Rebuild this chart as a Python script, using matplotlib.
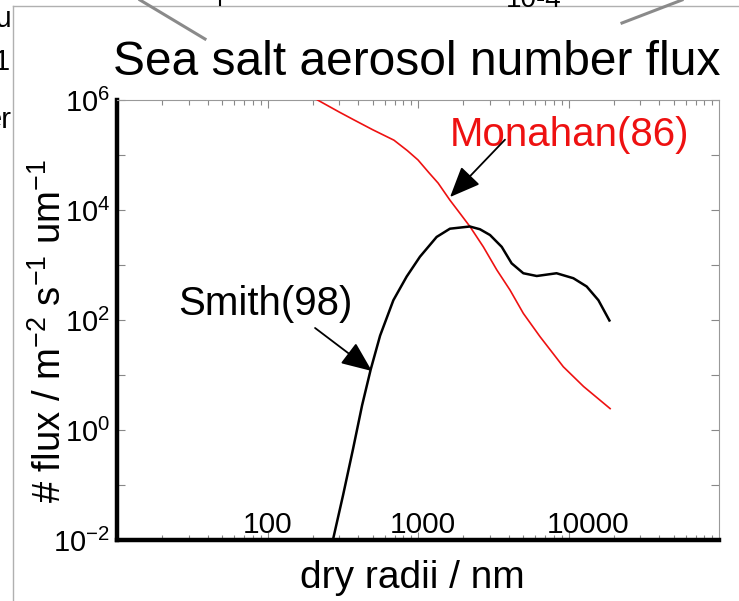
import numpy as np
import matplotlib.pyplot as plt
from matplotlib.lines import Line2D
from matplotlib.transforms import ScaledTranslation
from matplotlib.ticker import FixedLocator, FixedFormatter, NullFormatter, LogLocator

plt.rcParams['font.family'] = ['Liberation Sans', 'DejaVu Sans']
plt.rcParams['mathtext.fontset'] = 'custom'
plt.rcParams['mathtext.rm'] = 'Liberation Sans'
plt.rcParams['mathtext.it'] = 'Liberation Sans:italic'

# Smith(98) curve (dry radius in nm, flux)
smith_r = [272, 318, 370, 425, 485, 560, 686, 841, 1030, 1330, 1630, 2210,
           2580, 3010, 3600, 4190, 5010, 6150, 8330, 10770, 13200, 15800, 18700]
smith_flux = [0.01, 0.066, 0.45, 2.8, 12.6, 52, 229, 617, 1413, 3236, 4571, 5012,
              4467, 3508, 2138, 1072, 708, 631, 708, 575, 407, 229, 98]

# Monahan(86) curve
monahan_r = [215, 300, 374, 500, 692, 850, 1000, 1180, 1360, 1630, 1900, 2214,
             2717, 3340, 4085, 5010, 6460, 9240, 12600, 18900]
monahan_flux = [1.0e6, 6.03e5, 4.37e5, 2.88e5, 1.86e5, 1.2e5, 8.13e4, 4.79e4,
                3.09e4, 1.51e4, 8.7e3, 5.0e3, 2.14e3, 813, 351, 132, 50, 14.1, 6.17, 2.45]

x_ticks = [100, 1000, 10000]
x_labels = ['100', '1000', '10000']
y_ticks = [1e-2, 1e0, 1e2, 1e4, 1e6]
y_labels = [r'$\mathdefault{10^{-2}}$', r'$\mathdefault{10^{0}}$', r'$\mathdefault{10^{2}}$',
            r'$\mathdefault{10^{4}}$', r'$\mathdefault{10^{6}}$']
y_minor = [1e-1, 1e1, 1e3, 1e5]

W, H = 739, 601
fig = plt.figure(figsize=(W / 100, H / 100), dpi=100)

# bits of the surrounding slide
def px_line(x0, y0, x1, y1, **kw):
    fig.add_artist(Line2D([x0 / W, x1 / W], [1 - y0 / H, 1 - y1 / H],
                          transform=fig.transFigure, **kw))

px_line(13, 6, 13, 601, color='#b0b0b0', lw=1.0)
px_line(13, 6, 739, 6, color='#b0b0b0', lw=1.0)
px_line(140, 0, 205, 39, color='#8a8a8a', lw=2.2)
px_line(622, 23, 682, 0, color='#8a8a8a', lw=2.2)
px_line(220, 0, 220, 5, color='black', lw=1.5)
fig.text(12 / W, 1 - 27 / H, 'Eu', ha='right', va='baseline', fontsize=21)
fig.text(10 / W, 1 - 70 / H, '1', ha='right', va='baseline', fontsize=21)
fig.text(12 / W, 1 - 128 / H, 'er', ha='right', va='baseline', fontsize=21)
fig.text(506 / W, 1 - 7 / H, '10-4', ha='left', va='baseline', fontsize=20)

ax = fig.add_axes([117 / W, 61 / H, 602 / W, 440 / H])
ax.plot(monahan_r, monahan_flux, color='#ee1111', lw=1.2, zorder=3)
ax.plot(smith_r, smith_flux, color='black', lw=1.8, zorder=3)

ax.set_xscale('log')
ax.set_yscale('log')
ax.set_xlim(10, 1e5)
ax.set_ylim(1e-2, 1e6)

ax.xaxis.set_major_locator(FixedLocator(x_ticks))
ax.xaxis.set_major_formatter(NullFormatter())
ax.xaxis.set_minor_locator(LogLocator(base=10, subs=np.arange(2, 10), numticks=20))
ax.xaxis.set_minor_formatter(NullFormatter())
ax.yaxis.set_major_locator(FixedLocator(y_ticks))
ax.yaxis.set_major_formatter(FixedFormatter(y_labels))
ax.yaxis.set_minor_locator(FixedLocator(y_minor))
ax.yaxis.set_minor_formatter(NullFormatter())

ax.tick_params(axis='x', which='both', direction='in', top=True, bottom=True,
               color='#888888', width=0.8)
ax.tick_params(axis='x', which='major', length=6)
ax.tick_params(axis='x', which='minor', length=3.5)
ax.tick_params(axis='y', which='both', direction='in', left=True, right=True,
               color='#888888', width=0.8, length=6, labelcolor='black',
               labelsize=21, pad=5)

# x tick labels sit inside the frame, as on the slide
label_shift_px = [0, 5, 20]
for xv, lab, dx in zip(x_ticks, x_labels, label_shift_px):
    tr = ax.get_xaxis_transform() + ScaledTranslation(dx / 100, 0, fig.dpi_scale_trans)
    ax.text(xv, 0.016, lab, transform=tr, ha='center', va='baseline', fontsize=21.5)

for s in ['left', 'bottom']:
    ax.spines[s].set_color('black')
    ax.spines[s].set_linewidth(3.2)
for s in ['top', 'right']:
    ax.spines[s].set_color('#999999')
    ax.spines[s].set_linewidth(0.8)

ax.set_xlabel('dry radii / nm', fontsize=28)
ax.xaxis.set_label_coords(0.49, -0.045)
ax.set_ylabel(r'# flux / m$^{-2}$ s$^{-1}$ um$^{-1}$', fontsize=27.5)
ax.yaxis.set_label_coords(-0.08, 0.475)

ax.text(0.553, 0.895, 'Monahan(86)', transform=ax.transAxes, color='#ee1111',
        fontsize=29, va='baseline', ha='left')
ax.text(0.101, 0.511, 'Smith(98)', transform=ax.transAxes, color='black',
        fontsize=29, va='baseline', ha='left')

arrow = dict(arrowstyle='-|>,head_length=0.9,head_width=0.38', color='black',
             lw=1.3, mutation_scale=21, shrinkA=0, shrinkB=0)
ax.annotate('', xy=(1633, 17200), xytext=(3785, 1.9e5), arrowprops=arrow)
ax.annotate('', xy=(494, 11.8), xytext=(207, 71.6), arrowprops=arrow)

fig.text(113 / W, 1 - 75 / H, 'Sea salt aerosol number flux', ha='left',
         va='baseline', fontsize=34.5)

fig.savefig('out.png', dpi=100)
